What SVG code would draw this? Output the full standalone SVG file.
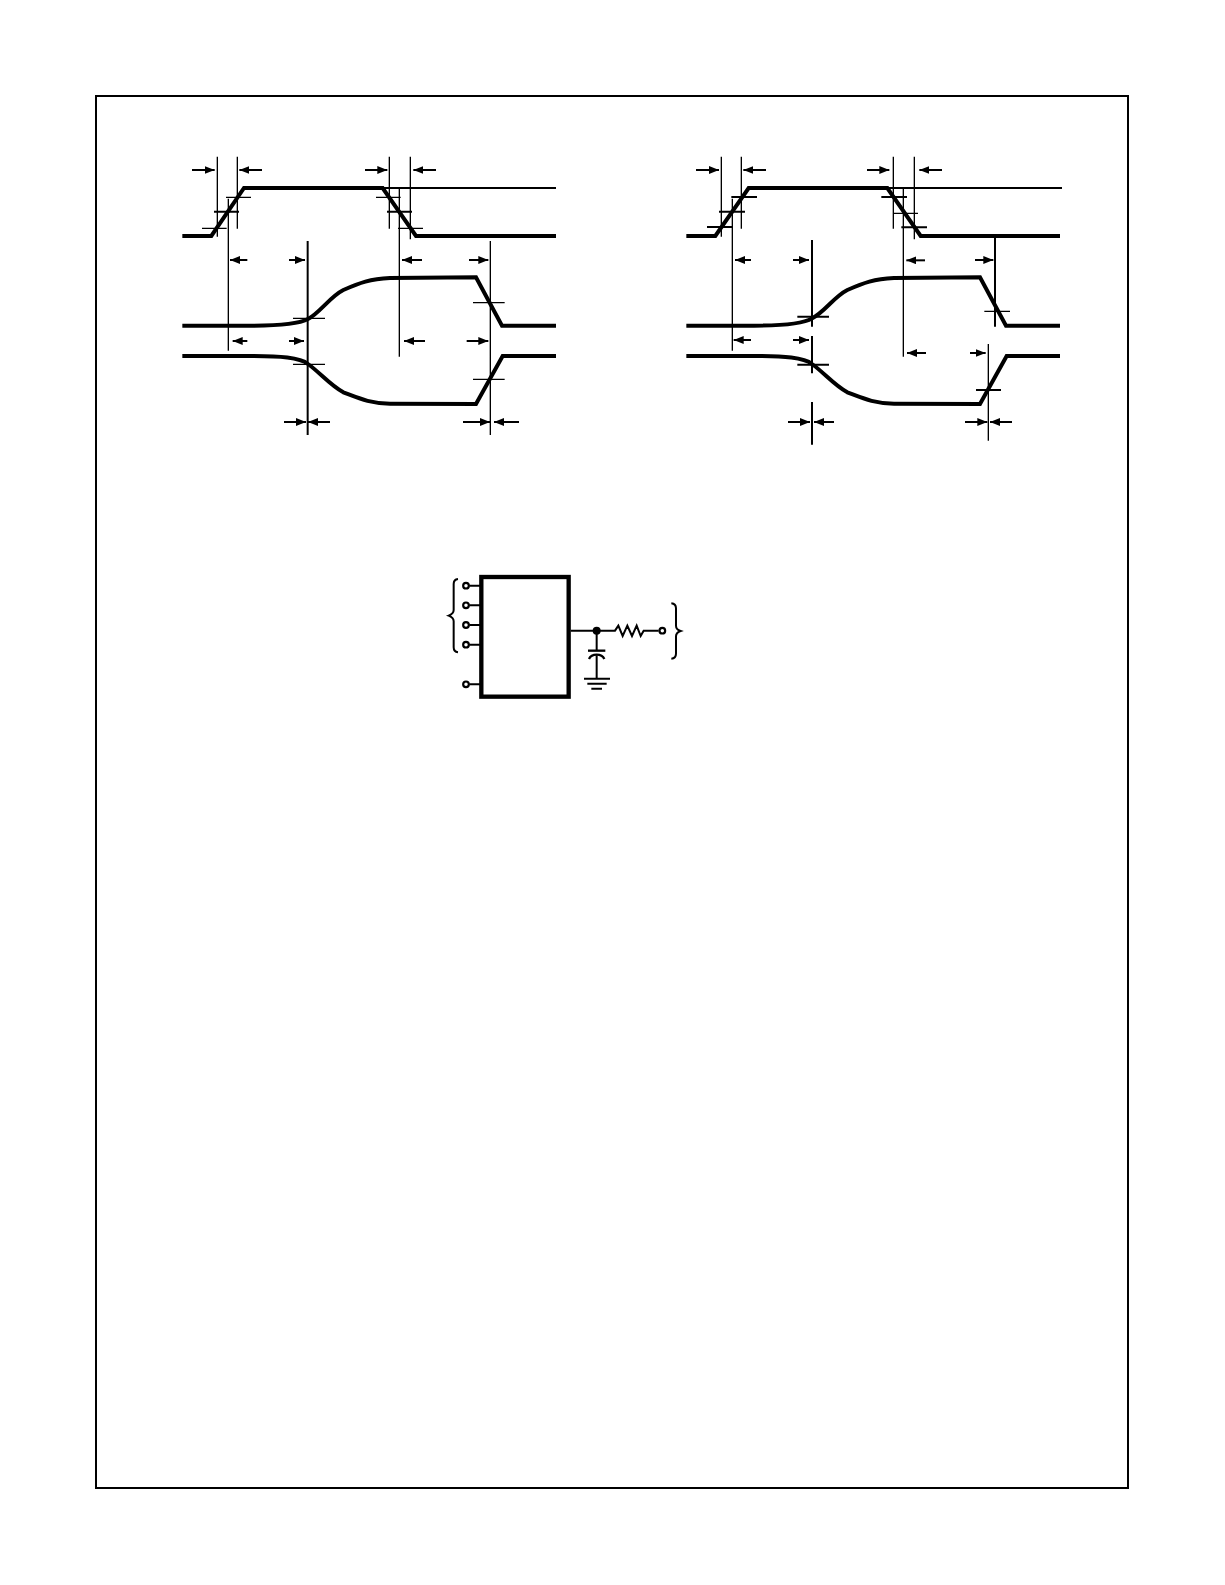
<svg xmlns="http://www.w3.org/2000/svg" width="1225" height="1585" viewBox="0 0 1225 1585">
<defs>
<style>
.w{fill:none;stroke:#000;stroke-width:12;stroke-linejoin:miter}
.t{fill:none;stroke:#000;stroke-width:4}
.m{fill:none;stroke:#000;stroke-width:6}
.a{fill:none;stroke:#000;stroke-width:6;marker-end:url(#h)}
.p{fill:#fff;stroke:#000;stroke-width:6.5}
</style>
<marker id="h" markerUnits="userSpaceOnUse" markerWidth="32" markerHeight="24" refX="30" refY="12" orient="auto" viewBox="0 0 32 24"><path d="M0 0L30 12L0 24z" fill="#000"/></marker>
</defs>
<rect width="1225" height="1585" fill="#fff"/>
<rect id="frame" x="96" y="96" width="1032" height="1392" fill="none" stroke="#000" stroke-width="2"/>

<g id="timing-left" transform="translate(170 140) scale(.33333)">
<g id="waves-left">
<path class="w" d="M37 288H124L222 144H638L738 288H1158"/>
<path class="w" d="M37 557H240C330 557 390 550 414 537C450 518 480 470 520 450C570 428 600 417 660 414L918 412L996 557H1158"/>
<path class="w" d="M37 648H240C330 648 390 652 414 672C450 698 480 735 520 757C570 776 600 790 660 791L918 792L998 648H1158"/>
</g>
<g id="connectors-left">
<path class="m" d="M638 144H1158"/>
<path class="t" d="M142 50V290M202 50V266M658 50V266M721 50V298M175 176V632M688 144V650M961 303V885"/>
<path class="m" d="M413 303V885"/>
<path class="t" d="M96 265H170M168 172H243M618 172H692M684 265H759M369 535H465M369 673H465M909 488H1004M909 718H1004"/>
<path class="m" d="M132 215H207M651 215H726"/>
<path class="a" d="M66 90H134"/><path class="a" d="M276 90H208"/><path class="a" d="M585 90H652"/><path class="a" d="M798 90H730"/>
<path class="a" d="M232 360H180"/><path class="a" d="M357 360H405"/><path class="a" d="M756 360H696"/><path class="a" d="M897 360H955"/>
<path class="a" d="M232 603H188"/><path class="a" d="M357 603H402"/><path class="a" d="M765 603H702"/><path class="a" d="M890 603H955"/>
<path class="a" d="M342 846H408"/><path class="a" d="M480 846H414"/><path class="a" d="M879 846H960"/><path class="a" d="M1047 846H972"/>
</g>
</g>

<g id="timing-right" transform="translate(670 140) scale(.33333)">
<g id="waves-right">
<path class="w" d="M49 288H136L236 144H652L752 288H1170"/>
<path class="w" d="M49 557H252C342 557 402 550 426 535C462 518 492 470 532 450C582 428 612 417 672 414L930 412L1008 557H1170"/>
<path class="w" d="M49 648H252C342 648 402 652 426 672C462 698 492 735 532 757C582 776 612 790 672 791L930 792L1010 648H1170"/>
</g>
<g id="connectors-right">
<path class="m" d="M652 144H1176"/>
<path class="t" d="M154 50V290M214 50V266M670 50V266M733 50V298M187 176V632M700 144V650M955 612V902"/>
<path class="m" d="M426 300V560M426 588V700M426 786V914M975 288V560"/>
<path class="m" d="M111 261H187M147 215H225M184 171H261M634 171H711M694 262H771M382 530H477M382 674H477M918 750H993"/>
<path class="t" d="M672 220H744M943 514H1020"/>
<path class="a" d="M78 90H147"/><path class="a" d="M288 90H220"/><path class="a" d="M591 90H658"/><path class="a" d="M816 90H748"/>
<path class="a" d="M243 360H195"/><path class="a" d="M369 360H417"/><path class="a" d="M765 361H709"/><path class="a" d="M915 360H970"/>
<path class="a" d="M243 600H191"/><path class="a" d="M369 600H417"/><path class="a" d="M768 639H711"/><path class="a" d="M900 639H947"/>
<path class="a" d="M354 846H420"/><path class="a" d="M492 846H432"/><path class="a" d="M885 846H952"/><path class="a" d="M1026 846H960"/>
</g>
</g>

<g id="circuit" transform="translate(430 560) scale(.33333)">
<g id="circuit-connectors">
<path class="m" d="M118 77H150M118 136H150M118 195H150M118 254H150M118 373H150M422 212H500"/>
<path class="m" d="M500 212H555L565 197L578 228L592 197L606 228L620 197L632 228L641 212H686"/>
<path class="m" d="M500 212V270M500 286V355"/>
</g>
<g id="chip"><rect x="154" y="51" width="262" height="359" fill="#fff" stroke="#000" stroke-width="13"/></g>
<g id="pins">
<circle class="p" cx="108" cy="77" r="8.5"/><circle class="p" cx="108" cy="136" r="8.5"/><circle class="p" cx="108" cy="195" r="8.5"/><circle class="p" cx="108" cy="254" r="8.5"/><circle class="p" cx="108" cy="373" r="8.5"/><circle class="p" cx="697" cy="212" r="8.5"/>
</g>
<g id="node-dot"><circle cx="500" cy="212" r="12" fill="#000"/></g>
<g id="capacitor">
<path d="M474 272H526" fill="none" stroke="#000" stroke-width="7"/>
<path d="M477 297C482 286 492 284 500 284C508 284 518 286 523 297" fill="none" stroke="#000" stroke-width="7"/>
</g>
<g id="ground"><path d="M462 356H540M472 371H530M484 386H516" fill="none" stroke="#000" stroke-width="6"/></g>
<g id="braces">
<path class="m" d="M84 57C74 58 71 62 71 72V150C71 158 66 163 56 167C66 171 71 176 71 184V262C71 272 74 276 84 277"/>
<path class="m" d="M724 130C734 131 738 135 738 145V197C738 205 743 210 752 213C743 216 738 221 738 229V281C738 291 734 295 724 296"/>
</g>
</g>
</svg>
